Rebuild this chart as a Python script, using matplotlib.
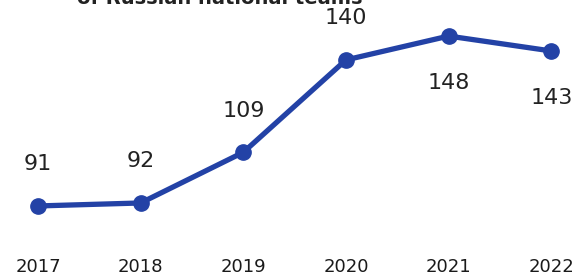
import matplotlib.pyplot as plt

years = [2017, 2018, 2019, 2020, 2021, 2022]
values = [91, 92, 109, 140, 148, 143]
label_below = [False, False, False, False, True, True]

fig = plt.figure(figsize=(5.77, 2.77), dpi=100)
ax = fig.add_axes([0, 32 / 277, 1, 245 / 277])

ax.plot(years, values, color='#2342a6', linewidth=3.8, marker='o', markersize=11,
        solid_capstyle='round')

for x, v, below in zip(years, values, label_below):
    off = -34 if below else 30
    ax.annotate(str(v), (x, v), xytext=(0, off), textcoords='offset points',
                ha='center', va='center', fontsize=16, color='#222222')

ax.set_xlim(2016.63, 2022.25)
ax.set_ylim(77.9, 160.1)
ax.set_xticks(years)
ax.set_xticklabels([str(y) for y in years], fontsize=13, color='#1a1a1a')
ax.tick_params(axis='x', length=0, pad=9)
ax.set_yticks([])
for s in ax.spines.values():
    s.set_visible(False)

# title, cut off by the top edge in the source picture
fig.text(0.38, 1.0 + 1 / 277, 'of Russian national teams', ha='center', va='center',
         fontsize=14, fontweight='bold', color='#222222')

fig.savefig('out.png', dpi=100)
